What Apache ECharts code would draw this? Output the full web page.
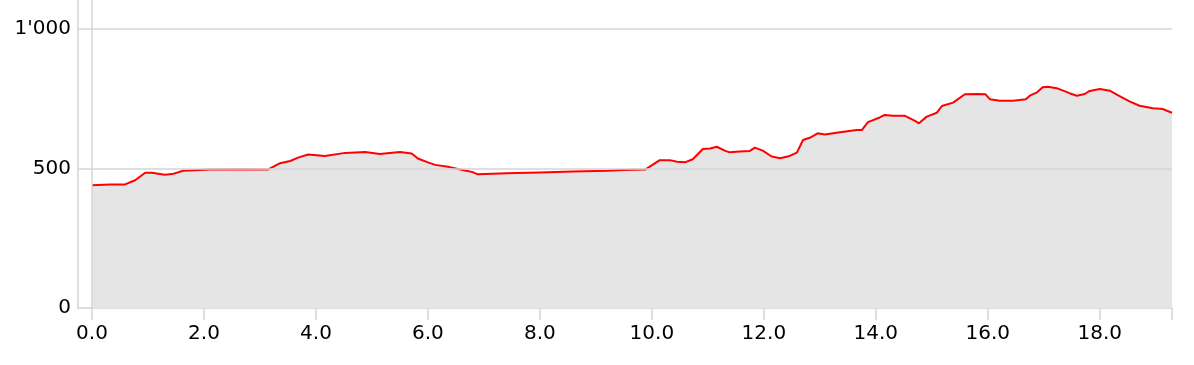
<!DOCTYPE html>
<html>
<head>
<meta charset="utf-8">
<script src="https://cdn.jsdelivr.net/npm/echarts@6/dist/echarts.min.js"></script>
<style>
html,body{margin:0;padding:0;background:#fff;}
#chart{width:1194px;height:365px;}
</style>
</head>
<body>
<div id="chart"></div>
<script>
// distance in km
const distanceKm = [0.00,0.32,0.59,0.77,0.95,1.07,1.30,1.43,1.63,2.11,2.70,3.14,3.36,3.54,3.68,3.86,4.16,4.52,4.88,5.14,5.50,5.71,5.82,6.00,6.13,6.39,6.66,6.80,6.89,7.41,8.00,8.59,9.20,9.48,9.88,9.91,10.14,10.32,10.45,10.59,10.73,10.91,11.04,11.16,11.30,11.39,11.57,11.75,11.84,11.98,12.14,12.29,12.46,12.59,12.70,12.82,12.96,13.09,13.36,13.66,13.75,13.86,14.07,14.16,14.30,14.52,14.70,14.77,14.91,15.09,15.18,15.38,15.59,15.82,15.96,16.04,16.21,16.45,16.68,16.75,16.88,16.98,17.07,17.23,17.46,17.59,17.73,17.82,18.00,18.18,18.32,18.54,18.71,18.95,19.13,19.20,19.29];
// elevation in m
const elevationM = [440,443,443,458,485,485,478,480,492,496,497,496,519,527,539,550,545,556,559,552,559,554,536,522,513,505,493,487,479,483,486,489,492,495,496,500,530,530,524,522,533,570,572,578,564,558,561,563,575,564,543,537,545,557,602,610,626,622,630,638,638,666,683,692,689,689,671,662,686,700,724,736,766,767,766,748,743,743,748,761,773,791,793,788,770,761,767,778,785,779,763,740,725,716,713,707,700];
const xTickValues = [0,2,4,6,8,10,12,14,16,18,19.29];
const xLabelValues = [0,2,4,6,8,10,12,14,16,18];
const yLabelValues = [0,500,1000];
const yGridValues = [500,1000];

const points = distanceKm.map((d,i)=>[d, elevationM[i]]);
const font = {fontFamily:'DejaVu Sans', fontSize:20, color:'#000'};
const gridColor = '#d4d4d4';

const chart = echarts.init(document.getElementById('chart'), null, {renderer:'canvas'});
chart.setOption({
  animation:false,
  backgroundColor:'#fff',
  grid:{left:78, right:22, top:0, bottom:57, containLabel:false},
  xAxis:{
    type:'value', min:-0.25, max:19.29,
    axisLine:{show:true, onZero:false, lineStyle:{color:gridColor, width:1.5}},
    axisTick:{show:true, length:12, customValues:xTickValues, lineStyle:{color:gridColor, width:1.5}},
    axisLabel:Object.assign({customValues:xLabelValues, margin:16, formatter:v=>v.toFixed(1)}, font),
    splitLine:{show:false}
  },
  yAxis:{
    type:'value', min:0, max:1104,
    axisLine:{show:true, onZero:false, lineStyle:{color:gridColor, width:1.5}},
    axisTick:{show:false},
    axisLabel:Object.assign({customValues:yLabelValues, margin:7, formatter:v=>String(v).replace(/\B(?=(\d{3})+(?!\d))/g,"'")}, font),
    splitLine:{show:false}
  },
  series:[
    {
      type:'line', z:1, silent:true, symbol:'none',
      data:points, lineStyle:{opacity:0}, 
      markLine:{
        silent:true, symbol:'none', label:{show:false},
        lineStyle:{color:gridColor, width:1.5, type:'solid'},
        data:[{xAxis:0}].concat(yGridValues.map(v=>({yAxis:v})))
      }
    },
    {
      type:'line', z:3, symbol:'none', silent:true,
      data:points,
      lineStyle:{color:'#ff0000', width:2},
      areaStyle:{color:'#e5e5e5', opacity:1}
    }
  ]
});
</script>
</body>
</html>
